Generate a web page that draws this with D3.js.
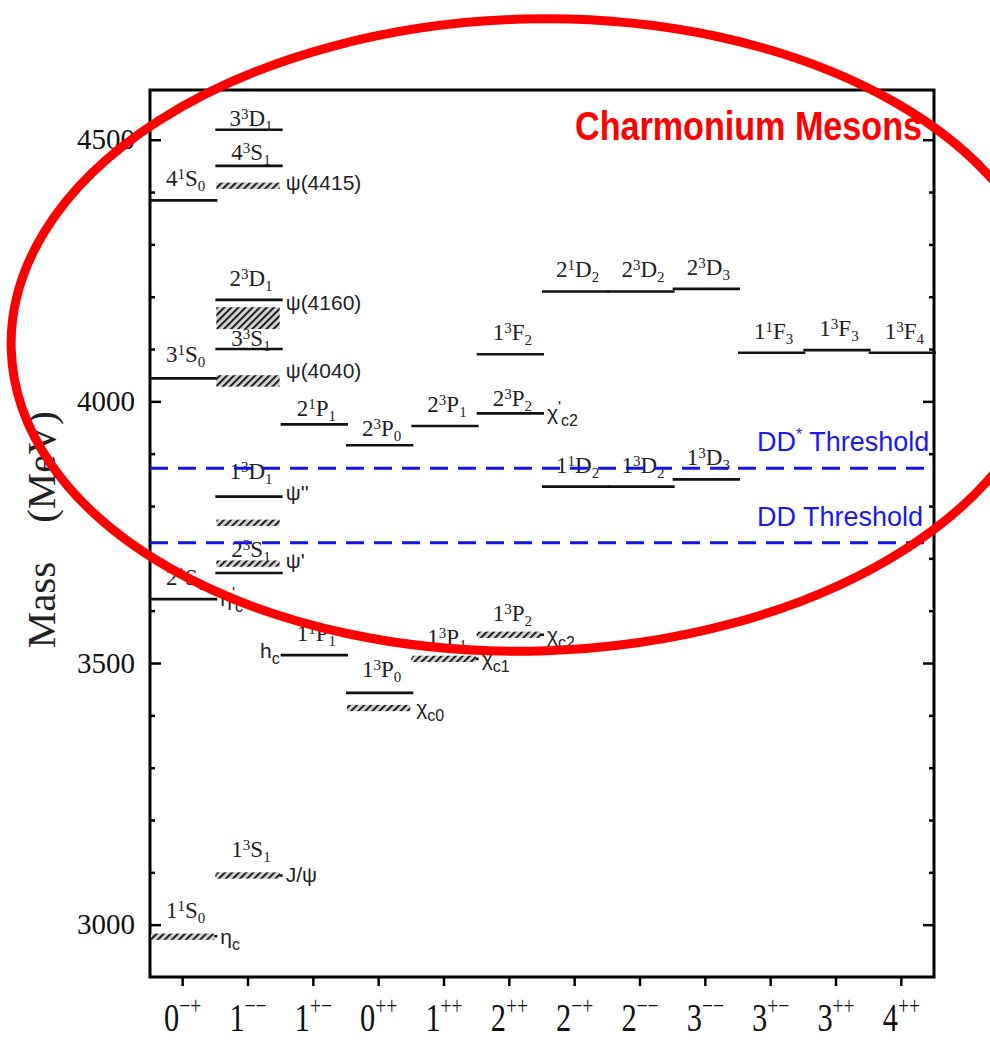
<!DOCTYPE html>
<html>
<head>
<meta charset="utf-8">
<script src="https://cdn.jsdelivr.net/npm/d3@7/dist/d3.min.js"></script>
<style>
  body { margin: 0; background: #fff; }
  svg { display: block; }
</style>
</head>
<body>
<svg id="chart" width="990" height="1041"></svg>
<script>
// J^PC columns (keys + how they are printed under the axis)
const jpc = ["0-+", "1--", "1+-", "0++", "1++", "2++", "2-+", "2--", "3--", "3+-", "3++", "4++"];
const jpcText = ["0^{−+}", "1^{−−}", "1^{+−}", "0^{++}", "1^{++}", "2^{++}", "2^{−+}", "2^{−−}", "3^{−−}", "3^{+−}", "3^{++}", "4^{++}"];

// mass axis (MeV)
const majorTicks = [3000, 3500, 4000, 4500];
const minorTicks = [3100, 3200, 3300, 3400, 3600, 3700, 3800, 3900, 4100, 4200, 4300, 4400];

// model predictions: [column, term, mass]
const modelLevels = [
  ["0-+", "1^1S_0", 2978], ["0-+", "2^1S_0", 3622], ["0-+", "3^1S_0", 4044], ["0-+", "4^1S_0", 4384],
  ["1--", "1^3S_1", 3094], ["1--", "2^3S_1", 3672], ["1--", "1^3D_1", 3818], ["1--", "3^3S_1", 4100],
  ["1--", "2^3D_1", 4194], ["1--", "4^3S_1", 4450], ["1--", "3^3D_1", 4519],
  ["1+-", "1^1P_1", 3515], ["1+-", "2^1P_1", 3956],
  ["0++", "1^3P_0", 3443], ["0++", "2^3P_0", 3916],
  ["1++", "1^3P_1", 3508], ["1++", "2^3P_1", 3953],
  ["2++", "1^3P_2", 3554], ["2++", "2^3P_2", 3977], ["2++", "1^3F_2", 4090],
  ["2-+", "1^1D_2", 3837], ["2-+", "2^1D_2", 4210],
  ["2--", "1^3D_2", 3837], ["2--", "2^3D_2", 4210],
  ["3--", "1^3D_3", 3851], ["3--", "2^3D_3", 4215],
  ["3+-", "1^1F_3", 4093],
  ["3++", "1^3F_3", 4098],
  ["4++", "1^3F_4", 4093]
];

// observed states (hatched): [column, mass, half width]
const observed = [
  ["0-+", 2977, 6],
  ["1--", 3094, 6], ["1--", 3690, 6], ["1--", 3768, 6], ["1--", 4039, 11], ["1--", 4159, 21], ["1--", 4412, 6],
  ["0++", 3414, 6],
  ["1++", 3508, 6],
  ["2++", 3554, 6]
];

// observed-state names: [column, name, mass it sits by]
const obsNames = [
  ["0-+", "η_c", 2977], ["0-+", "η^'_c", 3622],
  ["1--", "J/ψ", 3094], ["1--", "ψ'", 3690], ["1--", "ψ''", 3818],
  ["1--", "ψ(4040)", 4039], ["1--", "ψ(4160)", 4159], ["1--", "ψ(4415)", 4412],
  ["1+-", "h_c", 3515],
  ["0++", "χ_{c0}", 3414], ["1++", "χ_{c1}", 3508], ["2++", "χ_{c2}", 3554], ["2++", "χ^'_{c2}", 3977]
];

// open-charm thresholds: [label, mass]
const thresholds = [["DD^*", 3872], ["DD", 3730]];

// ---- layout ----
const frame = { left: 150, right: 934, top: 90, bottom: 977 };
const svg = d3.select("#chart");

const x = d3.scaleBand().domain(jpc).range([frame.left, frame.right]);
const y = d3.scaleLinear().domain([2900, 4595]).range([frame.bottom, frame.top]);

// label baseline offsets (px above the level) where the figure deviates
const termLift = { "3^3D_1": 4, "4^3S_1": 6, "3^3S_1": 3, "2^3P_2": 7, "2^3P_0": 9, "2^1P_1": 8,
                   "1^3D_1": 18, "1^1S_0": 18, "1^3S_1": 18, "2^3S_1": 16, "1^3P_0": 16, "3^1S_0": 16 };
const nameDrop = { "ψ(4415)": 4, "ψ(4160)": -8, "ψ(4040)": -3, "ψ''": 3, "ψ'": 4, "h_c": 3 };

// writes "4^1S_0" / "χ_{c0}" style strings as tspans
function rich(text, str, big, small, up, down) {
  const re = /([\^_])(\{[^}]*\}|.)|([^\^_]+)/g;
  let m, shift = 0;
  while ((m = re.exec(str))) {
    if (m[3]) {
      text.append("tspan").attr("dy", -shift).style("font-size", big + "px").text(m[3]);
      shift = 0;
    } else {
      const s = m[1] === "^" ? up : down;
      text.append("tspan").attr("dy", s - shift).style("font-size", small + "px")
        .text(m[2].replace(/[{}]/g, ""));
      shift = s;
    }
  }
  return text;
}

const defs = svg.append("defs");
const pat = defs.append("pattern").attr("id", "hatch")
  .attr("patternUnits", "userSpaceOnUse").attr("width", 5).attr("height", 5)
  .attr("patternTransform", "rotate(45)");
pat.append("rect").attr("width", 5).attr("height", 5).attr("fill", "#d6d6d6");
pat.append("line").attr("x1", 1).attr("y1", 0).attr("x2", 1).attr("y2", 5)
  .attr("stroke", "#222").attr("stroke-width", 2.2);

// frame
svg.append("rect")
  .attr("x", frame.left).attr("y", frame.top)
  .attr("width", frame.right - frame.left).attr("height", frame.bottom - frame.top)
  .attr("fill", "none").attr("stroke", "#000").attr("stroke-width", 3);

// y axis, ticks inward on both sides
const yAxis = svg.append("g").attr("transform", `translate(${frame.left},0)`)
  .call(d3.axisLeft(y).tickValues(majorTicks).tickSize(-11).tickPadding(15).tickFormat(d3.format("d")));
svg.append("g").attr("transform", `translate(${frame.left},0)`)
  .call(d3.axisLeft(y).tickValues(minorTicks).tickSize(-5).tickFormat(""));
svg.append("g").attr("transform", `translate(${frame.right},0)`)
  .call(d3.axisRight(y).tickValues(majorTicks).tickSize(-11).tickFormat(""));
svg.append("g").attr("transform", `translate(${frame.right},0)`)
  .call(d3.axisRight(y).tickValues(minorTicks).tickSize(-5).tickFormat(""));
yAxis.selectAll("text")
  .style("font-family", "'Liberation Serif', serif").style("font-size", "29px").attr("fill", "#111");

// x axis, ticks outward
const xAxis = svg.append("g").attr("transform", `translate(0,${frame.bottom})`)
  .call(d3.axisBottom(x).tickSize(9).tickFormat(""));
xAxis.selectAll(".tick").each(function (d) {
  const t = d3.select(this).append("text")
    .attr("transform", "translate(0,54) scale(0.78,1)")
    .attr("text-anchor", "middle").attr("fill", "#111")
    .style("font-family", "'Liberation Serif', serif");
  rich(t, jpcText[jpc.indexOf(d)], 39, 25, -17, 0);
});
svg.selectAll(".domain").remove();
svg.selectAll(".tick line").attr("stroke", "#000").attr("stroke-width", 2.5);

// model levels
svg.append("g").selectAll("line").data(modelLevels).join("line")
  .attr("x1", d => x(d[0])).attr("x2", d => x(d[0]) + x.bandwidth() + 2)
  .attr("y1", d => y(d[2])).attr("y2", d => y(d[2]))
  .attr("stroke", "#111").attr("stroke-width", 2.6);

const termG = svg.append("g")
  .style("font-family", "'Liberation Serif', 'Times New Roman', serif").attr("fill", "#222");
modelLevels.forEach(d => {
  const lift = termLift[d[1]] !== undefined ? termLift[d[1]] : 14;
  const t = termG.append("text")
    .attr("x", x(d[0]) + x.bandwidth() / 2 + 3)
    .attr("y", y(d[2]) - lift)
    .attr("text-anchor", "middle");
  rich(t, d[1], 23, 15, -7, 5);
});

// observed states
svg.append("g").selectAll("rect").data(observed).join("rect")
  .attr("x", d => x(d[0]) + 1).attr("width", x.bandwidth() - 2)
  .attr("y", d => y(d[1] + d[2])).attr("height", d => y(d[1] - d[2]) - y(d[1] + d[2]))
  .attr("fill", "url(#hatch)");

const nameG = svg.append("g")
  .style("font-family", "'Liberation Sans', Arial, sans-serif").attr("fill", "#222");
obsNames.forEach(d => {
  const drop = nameDrop[d[1]] !== undefined ? nameDrop[d[1]] : 7;
  const left = d[1] === "h_c";
  const t = nameG.append("text")
    .attr("x", left ? x(d[0]) - 1 : x(d[0]) + x.bandwidth() + 5)
    .attr("y", y(d[2]) + drop)
    .attr("text-anchor", left ? "end" : "start");
  rich(t, d[1], 21, 16, -7, 6);
});

// thresholds
svg.append("g").selectAll("line").data(thresholds).join("line")
  .attr("x1", frame.left).attr("x2", frame.right)
  .attr("y1", d => y(d[1])).attr("y2", d => y(d[1]))
  .attr("stroke", "#1414e6").attr("stroke-width", 3).attr("stroke-dasharray", "18,10");
thresholds.forEach(d => {
  const t = svg.append("text")
    .attr("x", 757).attr("y", y(d[1]) - 17)
    .attr("fill", "#1a1aee")
    .style("font-family", "'Liberation Sans', Arial, sans-serif");
  rich(t, d[0] + " Threshold", 27, 16, -11, 0);
});

// title
svg.append("text")
  .attr("x", 575).attr("y", 140)
  .attr("textLength", 347).attr("lengthAdjust", "spacingAndGlyphs")
  .attr("fill", "#ff0000")
  .style("font-family", "'Liberation Sans', Arial, sans-serif")
  .style("font-size", "40px").style("font-weight", "bold")
  .text("Charmonium Mesons");

// axis title
[["Mass", 605], ["(MeV)", 467]].forEach(([s, cy]) => {
  svg.append("text")
    .attr("transform", `translate(55,${cy}) rotate(-90)`)
    .attr("text-anchor", "middle").attr("fill", "#222")
    .style("font-family", "'Liberation Serif', serif").style("font-size", "41px")
    .text(s);
});

// hand-drawn highlight ellipse
svg.append("ellipse")
  .attr("cx", 532).attr("cy", 335).attr("rx", 521).attr("ry", 316)
  .attr("transform", "rotate(-1.5,532,335)")
  .attr("fill", "none").attr("stroke", "#ff0000").attr("stroke-width", 9);
</script>
</body>
</html>
